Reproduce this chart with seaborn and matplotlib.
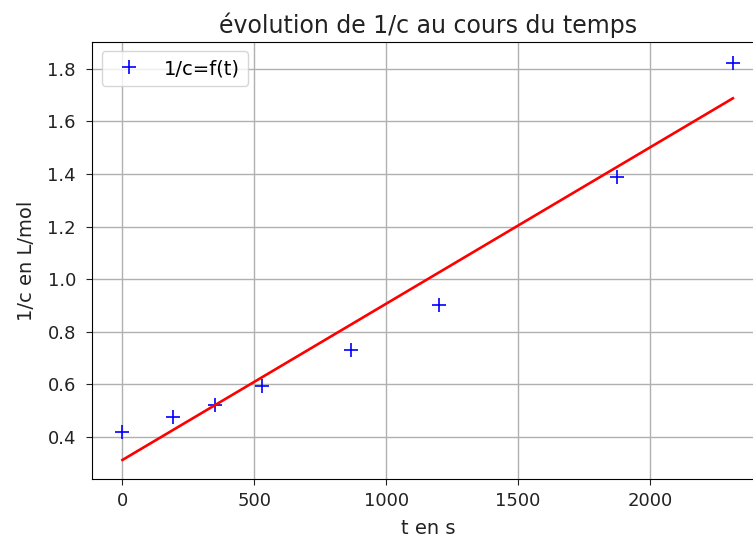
import numpy as np
import pandas as pd
import matplotlib
matplotlib.use("Agg")
import matplotlib.pyplot as plt
import seaborn as sns

# data
t_values = [0, 190, 350, 530, 866, 1202, 1877, 2315]
inv_c = [0.419, 0.474, 0.520, 0.594, 0.732, 0.901, 1.389, 1.823]

title = "évolution de 1/c au cours du temps"
xlabel = "t en s"
ylabel = "1/c en L/mol"
legend_label = "1/c=f(t)"

df = pd.DataFrame({"t": t_values, "y": inv_c})
slope, intercept = np.polyfit(df["t"], df["y"], 1)
df["fit"] = slope * df["t"] + intercept

plt.rcParams["font.family"] = ["DejaVu Sans"]

fig = plt.figure(figsize=(7.53, 5.42), dpi=100)
ax = fig.add_axes([0.122, 0.116, 0.894, 0.807])

sns.lineplot(data=df, x="t", y="y", ax=ax, marker="+", linestyle="",
             color="blue", markeredgecolor="blue", markersize=10,
             markeredgewidth=1.2, label=legend_label)
sns.lineplot(data=df, x="t", y="fit", ax=ax, color="red", linewidth=1.9)

ax.set_xlim(-116, 2437)
ax.set_ylim(0.239, 1.903)
ax.set_xticks([0, 500, 1000, 1500, 2000])
ax.set_yticks([0.4, 0.6, 0.8, 1.0, 1.2, 1.4, 1.6, 1.8])
ax.grid(True, color="#b0b0b0", linewidth=1.0)
ax.tick_params(labelsize=13, length=4.5, colors="#222222")
ax.tick_params(axis="y", pad=7)
ax.tick_params(axis="x", pad=5)
ax.set_title(title, fontsize=17, color="#222222")
ax.set_xlabel(xlabel, fontsize=14, labelpad=6, color="#222222")
ax.set_ylabel(ylabel, fontsize=14, labelpad=8, color="#222222")
ax.legend(loc="upper left", fontsize=14)

fig.savefig("out.png", dpi=100)
